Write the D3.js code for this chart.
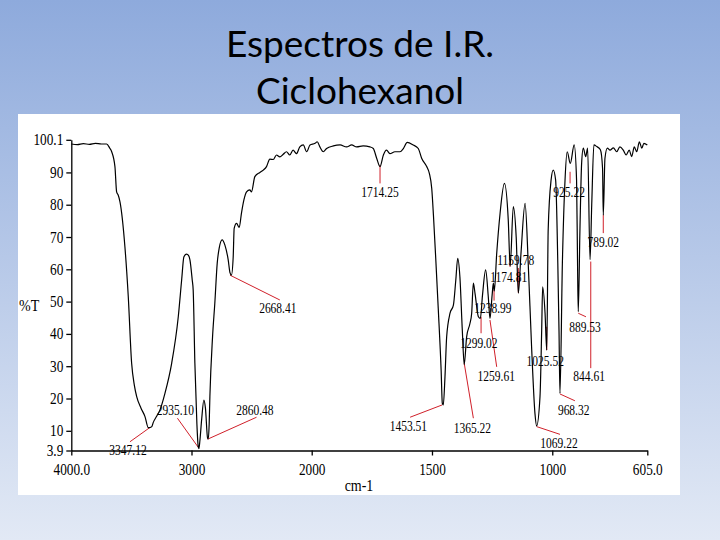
<!DOCTYPE html>
<html>
<head>
<meta charset="utf-8">
<script src="https://cdn.jsdelivr.net/npm/d3@7"></script>
<style>
  body { margin: 0; }
  text { font-family: "Liberation Serif", serif; }
</style>
</head>
<body>
<script>
const svgWidth = 720
const svgHeight = 540

// spectrum (cm-1, %T)
const wavenumber = [4000, 3950, 3900, 3850, 3800, 3750, 3706, 3680, 3664, 3637, 3623, 3610, 3595, 3554, 3526, 3498, 3475, 3456, 3420, 3387, 3360, 3347, 3330, 3318, 3290, 3263, 3221, 3165, 3110, 3082, 3063, 3041, 3025, 3013, 2994, 2986, 2972, 2955, 2944, 2938, 2930, 2916, 2897, 2884, 2866, 2860, 2853, 2847, 2825, 2806, 2786, 2770, 2745, 2722, 2695, 2680, 2668, 2653, 2645, 2625, 2603, 2584, 2564, 2542, 2515, 2501, 2473, 2431, 2403, 2376, 2348, 2320, 2293, 2265, 2237, 2210, 2182, 2155, 2127, 2099, 2070, 2042, 2014, 1986, 1977, 1966, 1952, 1938, 1910, 1882, 1855, 1834, 1813, 1786, 1758, 1744, 1730, 1716, 1702, 1689, 1675, 1654, 1633, 1619, 1603, 1578, 1557, 1543, 1522, 1511, 1501, 1494, 1483, 1474, 1462, 1457, 1453, 1446, 1439, 1425, 1411, 1401, 1393, 1384, 1374, 1366, 1356, 1342, 1335, 1328, 1321, 1307, 1299, 1290, 1277, 1266, 1259, 1250, 1245, 1241, 1231, 1217, 1199, 1183, 1175, 1162, 1150, 1141, 1130, 1113, 1100, 1086, 1072, 1065, 1051, 1044, 1040, 1030, 1023, 1017, 1005, 996, 986, 977, 972, 968, 958, 947, 938, 925, 909, 899, 895, 892, 885, 878, 871, 861, 853, 843, 836, 827, 815, 800, 791, 788, 781, 771, 760, 746, 732, 719, 705, 693, 680, 670, 659, 649, 638, 628, 619, 605]
const transmittance = [98.8, 98.6, 98.9, 98.7, 99.0, 98.8, 98.8, 97.5, 96.4, 91.8, 84.0, 83.0, 80.9, 67, 51.5, 30.9, 24, 20.6, 17, 14.4, 11.0, 11.0, 11.3, 12.6, 14.5, 16.4, 21.6, 30.9, 45.3, 56.7, 63.9, 64.7, 64.3, 62.9, 56.7, 53.6, 31, 12, 5.1, 4.5, 7, 13.3, 19.5, 17, 7.7, 7.5, 12, 20.6, 39, 49.5, 61.9, 66.5, 69.1, 67.5, 63, 59, 58.2, 63.9, 72.7, 74.2, 73, 77.5, 81.5, 84, 84.6, 84, 88.7, 90, 90.7, 91.8, 94.1, 94, 95.4, 94.8, 95.6, 96.4, 95.4, 96.9, 95.8, 97.9, 98.5, 96.4, 98.5, 99, 99.5, 97.9, 96.4, 97.4, 98.2, 98.5, 97.9, 98.5, 97.9, 98.2, 97.9, 97.4, 94.4, 91.8, 95.4, 96.9, 95.8, 96.4, 96.4, 97.4, 99.3, 98.5, 97.4, 94.4, 91.8, 89.7, 85, 76.8, 61.3, 47.9, 28.8, 18.5, 18, 26.7, 39.1, 46.4, 48.9, 56.7, 63.4, 57.7, 41.2, 30.5, 39.1, 43.3, 46.4, 55.7, 52.5, 45.3, 44.8, 52, 59.8, 51.5, 44.8, 52, 55.7, 53.3, 64.9, 77.3, 86.6, 75.3, 61, 79.4, 70, 52.6, 65, 80.4, 61.9, 36, 15.4, 11.5, 20.6, 41.2, 54.6, 46.4, 35, 72.2, 87.6, 90.7, 87.6, 61.9, 41, 21.6, 61.9, 87.6, 96.4, 92.8, 98.5, 87.6, 62, 46.9, 72.2, 92.8, 97.5, 94.9, 97.5, 63, 80, 98.5, 98, 97, 91.3, 76.8, 94.4, 97.5, 96.9, 97.6, 96.4, 97.9, 96.9, 95.4, 96.9, 94.9, 97.9, 96.4, 99.5, 97.5, 99, 98.5]

// peak annotations: text, point on curve, end of leader, label anchor (all in cm-1, %T)
const peakText = ["3347.12", "2935.10", "2860.48", "2668.41", "1714.25", "1453.51", "1365.22", "1299.02", "1259.61", "1238.99", "1174.81", "1159.78", "1069.22", "1025.52", "968.32", "925.22", "889.53", "844.61", "789.02"]
const peakFrom = [[3347, 11.0], [2938, 4.6], [2866, 7.4], [2680, 58.2], [1716, 92.3], [1458, 18], [1366, 30.9], [1296, 45.3], [1259, 44.3], [1242, 53.6], [1141, 52.7], [1176, 60.8], [1065, 11.3], [1023, 35], [968, 21.4], [926, 90.2], [892, 46.4], [840, 62.4], [788, 76.8]]
const peakTo = [[3512, 6.6], [3117, 13.9], [2459, 14.2], [2265, 50.5], [1716, 86.6], [1591, 14.2], [1328, 13.9], [1296, 40.2], [1231, 29.8], [1242, 50.3], [1141, 60.4], [1176, 64.4], [968, 8.9], [1023, 42.2], [906, 19.3], [926, 86.6], [860, 45.3], [840, 29.4], [788, 71.2]]
const peakLabelAt = [[3528, 2.5], [3134, 15.0], [2473, 15.0], [2282, 46.5], [1716, 82.4], [1598, 9.8], [1332, 9.3], [1305, 35.6], [1233, 25.3], [1247, 46.5], [1181, 56.2], [1152, 61.3], [972, 4.7], [1029, 30.2], [911, 15.0], [930, 82.5], [864, 40.7], [847, 25.3], [788, 66.9]]

const xTickValues = [4000, 3000, 2000, 1500, 1000, 605]
const xTickLabels = ["4000.0", "3000", "2000", "1500", "1000", "605.0"]
const yTickValues = [100.1, 90, 80, 70, 60, 50, 40, 30, 20, 10, 3.9]
const yTickLabels = ["100.1", "90", "80", "70", "60", "50", "40", "30", "20", "10", "3.9"]

const svg = d3.select("body").append("svg")
    .attr("width", svgWidth)
    .attr("height", svgHeight)

const grad = svg.append("defs").append("linearGradient")
    .attr("id", "bg")
    .attr("x1", 0).attr("y1", 0).attr("x2", 0).attr("y2", 1)
grad.append("stop").attr("offset", "0%").attr("stop-color", "#8eaadc")
grad.append("stop").attr("offset", "100%").attr("stop-color", "#e2e9f5")

svg.append("rect")
    .attr("width", svgWidth)
    .attr("height", svgHeight)
    .attr("fill", "url(#bg)")

svg.selectAll("text.title")
    .data(["Espectros de I.R.", "Ciclohexanol"])
    .enter()
    .append("text")
    .attr("class", "title")
    .attr("x", 360)
    .attr("y", (d, i) => 57 + i * 47)
    .attr("text-anchor", "middle")
    .style("font-family", "Lato, 'Open Sans', sans-serif")
    .style("font-size", "37px")
    .text(d => d)

// white panel holding the spectrum image
svg.append("rect")
    .attr("x", 18).attr("y", 114)
    .attr("width", 662).attr("height", 381)
    .attr("fill", "#fff")

// x axis is expanded 2x below 2000 cm-1
const x = d3.scaleLinear()
    .domain([4000, 2000, 605])
    .range([71.3, 311.7, 647.3])

const y = d3.scaleLinear()
    .domain([3.9, 100.1])
    .range([450.5, 139.8])

// the original image is stretched vertically, so text is too
function stretch(sel, k) {
  sel.each(function() {
    const t = d3.select(this)
    const tx = +t.attr("x") || 0
    const ty = +t.attr("y") || 0
    t.attr("x", 0).attr("y", 0)
      .attr("transform", `translate(${tx},${ty}) scale(1,${k})`)
  })
}

const xAxis = d3.axisBottom(x)
    .tickValues(xTickValues)
    .tickFormat((d, i) => xTickLabels[i])
    .tickSize(5)
    .tickSizeOuter(0)

const yAxis = d3.axisLeft(y)
    .tickValues(yTickValues)
    .tickFormat((d, i) => yTickLabels[i])
    .tickSize(5)
    .tickSizeOuter(0)

const gx = svg.append("g")
    .attr("transform", `translate(0, ${y(3.9)})`)
    .call(xAxis)
gx.selectAll("text")
    .attr("dy", 0)
    .attr("y", 24.5)
    .style("font-size", "13.3px")
    .attr("fill", "#000")
gx.selectAll("text").call(stretch, 1.22)

const gy = svg.append("g")
    .attr("transform", `translate(${x(4000)}, 0)`)
    .call(yAxis)
gy.selectAll("text")
    .attr("dy", 0)
    .attr("x", -8)
    .attr("y", 5)
    .style("font-size", "13.3px")
    .attr("fill", "#000")
gy.selectAll("text").call(stretch, 1.22)

svg.selectAll(".domain, .tick line")
    .attr("stroke", "#000")
    .attr("stroke-width", 1.3)

svg.append("text")
    .attr("x", 19).attr("y", 311)
    .style("font-size", "14px")
    .text("%T")
    .call(stretch, 1.25)

svg.append("text")
    .attr("x", 359).attr("y", 491)
    .attr("text-anchor", "middle")
    .style("font-size", "14px")
    .text("cm-1")
    .call(stretch, 1.25)

// peak labels and red leaders
const peaks = peakText.map((t, i) => ({ t, from: peakFrom[i], to: peakTo[i], at: peakLabelAt[i] }))

svg.selectAll("line.leader")
    .data(peaks)
    .enter()
    .append("line")
    .attr("class", "leader")
    .attr("x1", d => x(d.from[0]))
    .attr("y1", d => y(d.from[1]))
    .attr("x2", d => x(d.to[0]))
    .attr("y2", d => y(d.to[1]))
    .attr("stroke", "#d0202a")
    .attr("stroke-width", 1)

svg.selectAll("text.peak")
    .data(peaks)
    .enter()
    .append("text")
    .attr("class", "peak")
    .attr("x", d => x(d.at[0]))
    .attr("y", d => y(d.at[1]))
    .attr("text-anchor", "middle")
    .style("font-size", "11.5px")
    .text(d => d.t)
    .call(stretch, 1.3)

const line = d3.line()
    .x(d => x(d[0]))
    .y(d => y(d[1]))
    .curve(d3.curveMonotoneX)

svg.append("path")
    .datum(wavenumber.map((w, i) => [w, transmittance[i]]))
    .attr("d", line)
    .attr("fill", "none")
    .attr("stroke", "#000")
    .attr("stroke-width", 1.2)
</script>
</body>
</html>
